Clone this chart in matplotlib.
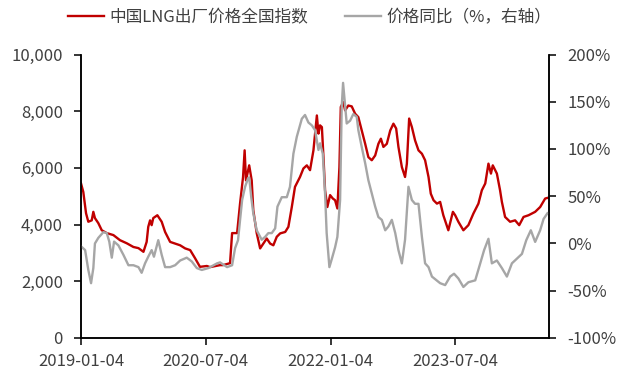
import matplotlib
matplotlib.use("Agg")
import matplotlib.pyplot as plt
import matplotlib.dates as mdates
from matplotlib.ticker import FuncFormatter, MultipleLocator
import pandas as pd

plt.rcParams['font.family'] = ['Noto Sans CJK SC', 'DejaVu Sans']
plt.rcParams['axes.unicode_minus'] = False

# 中国LNG出厂价格全国指数 (元/吨)
index_dates = [
    "2019-01-04", "2019-01-14", "2019-01-26", "2019-02-05", "2019-02-20", "2019-02-27",
    "2019-03-06", "2019-03-21", "2019-04-05", "2019-04-27", "2019-05-26", "2019-06-24",
    "2019-07-24", "2019-08-22", "2019-09-13", "2019-10-05", "2019-10-19", "2019-10-26",
    "2019-11-03", "2019-11-10", "2019-11-17", "2019-12-05", "2019-12-24", "2020-01-08",
    "2020-01-30", "2020-02-21", "2020-03-14", "2020-04-05", "2020-04-27", "2020-05-18",
    "2020-06-09", "2020-07-09", "2020-07-23", "2020-09-05", "2020-09-18", "2020-10-19",
    "2020-10-28", "2020-11-19", "2020-12-02", "2020-12-15", "2020-12-22", "2020-12-28",
    "2021-01-11", "2021-01-22", "2021-01-29", "2021-02-13", "2021-02-28", "2021-03-14",
    "2021-03-29", "2021-04-13", "2021-04-27", "2021-05-12", "2021-05-27", "2021-06-18",
    "2021-07-02", "2021-07-17", "2021-07-31", "2021-08-22", "2021-09-06", "2021-09-21",
    "2021-10-05", "2021-10-20", "2021-10-27", "2021-11-04", "2021-11-11", "2021-11-18",
    "2021-11-26", "2021-12-03", "2021-12-10", "2021-12-20", "2022-01-01", "2022-01-13",
    "2022-01-23", "2022-02-02", "2022-02-11", "2022-02-17", "2022-02-28", "2022-03-08",
    "2022-03-22", "2022-04-06", "2022-04-21", "2022-05-05", "2022-05-20", "2022-06-04",
    "2022-06-18", "2022-07-03", "2022-07-18", "2022-08-01", "2022-08-12", "2022-08-23",
    "2022-09-07", "2022-09-22", "2022-10-06", "2022-10-18", "2022-10-28", "2022-11-12",
    "2022-11-26", "2022-12-04", "2022-12-14", "2022-12-26", "2023-01-09", "2023-01-24",
    "2023-02-08", "2023-02-22", "2023-03-09", "2023-03-19", "2023-03-31", "2023-04-15",
    "2023-04-29", "2023-05-13", "2023-06-04", "2023-06-24", "2023-07-04", "2023-07-18",
    "2023-08-09", "2023-08-31", "2023-09-22", "2023-10-14", "2023-10-29", "2023-11-13",
    "2023-11-27", "2023-12-08", "2023-12-16", "2024-01-03", "2024-01-17", "2024-01-25",
    "2024-02-08", "2024-03-01", "2024-03-23", "2024-04-10", "2024-04-29", "2024-05-21",
    "2024-06-19", "2024-07-11", "2024-08-02", "2024-08-16",
]
index_values = [
    5450, 5150, 4400, 4100, 4150, 4450,
    4230, 4050, 3800, 3700, 3630, 3450,
    3340, 3210, 3170, 3040, 3390, 3920,
    4150, 3980, 4230, 4330, 4100, 3740,
    3390, 3330, 3270, 3160, 3100, 2820,
    2510, 2540, 2500, 2570, 2570, 2640,
    3700, 3700, 4750, 5670, 6620, 5560,
    6090, 5560, 4510, 3700, 3160, 3330,
    3510, 3330, 3270, 3570, 3690, 3740,
    3920, 4620, 5330, 5680, 5980, 6090,
    5920, 6620, 7210, 7850, 7210, 7500,
    7440, 6380, 5210, 4620, 5040, 4920,
    4860, 4570, 6030, 8150, 8320, 8030,
    8200, 8170, 7910, 7790, 7320, 6850,
    6380, 6270, 6440, 6850, 7030, 6740,
    6850, 7320, 7560, 7390, 6740, 6030,
    5680, 6150, 7740, 7440, 6970, 6620,
    6500, 6270, 5680, 5090, 4860, 4740,
    4800, 4330, 3800, 4450, 4330, 4100,
    3800, 3980, 4390, 4740, 5210, 5450,
    6150, 5800, 6090, 5800, 5210, 4800,
    4270, 4100, 4150, 3980, 4270, 4330,
    4450, 4620, 4920, 4950,
]

# 价格同比 (%)
yoy_dates = [
    "2019-01-04", "2019-01-22", "2019-02-05", "2019-02-17", "2019-02-27", "2019-03-06",
    "2019-03-21", "2019-04-12", "2019-04-27", "2019-05-08", "2019-05-19", "2019-05-29",
    "2019-06-17", "2019-07-09", "2019-07-31", "2019-08-22", "2019-09-13", "2019-09-27",
    "2019-10-12", "2019-10-26", "2019-11-10", "2019-11-20", "2019-12-09", "2019-12-24",
    "2020-01-08", "2020-01-30", "2020-02-21", "2020-03-14", "2020-04-12", "2020-05-04",
    "2020-05-26", "2020-06-17", "2020-07-16", "2020-08-23", "2020-09-05", "2020-10-06",
    "2020-10-28", "2020-11-10", "2020-11-23", "2020-12-02", "2020-12-11", "2020-12-24",
    "2021-01-06", "2021-01-11", "2021-01-20", "2021-01-29", "2021-02-13", "2021-03-07",
    "2021-03-22", "2021-04-05", "2021-04-20", "2021-05-05", "2021-05-15", "2021-06-03",
    "2021-06-25", "2021-07-09", "2021-07-24", "2021-08-08", "2021-08-30", "2021-09-13",
    "2021-09-28", "2021-10-13", "2021-10-27", "2021-11-11", "2021-11-18", "2021-11-30",
    "2021-12-10", "2021-12-17", "2021-12-29", "2022-01-09", "2022-01-23", "2022-02-02",
    "2022-02-14", "2022-02-21", "2022-02-27", "2022-03-15", "2022-03-30", "2022-04-13",
    "2022-04-28", "2022-05-05", "2022-05-20", "2022-06-04", "2022-06-18", "2022-07-03",
    "2022-07-18", "2022-08-01", "2022-08-16", "2022-08-31", "2022-09-14", "2022-09-29",
    "2022-10-14", "2022-10-28", "2022-11-12", "2022-11-26", "2022-12-11", "2022-12-26",
    "2023-01-09", "2023-01-24", "2023-02-08", "2023-02-22", "2023-03-09", "2023-03-24",
    "2023-04-29", "2023-05-21", "2023-06-12", "2023-06-29", "2023-07-18", "2023-08-09",
    "2023-08-31", "2023-09-30", "2023-10-22", "2023-11-08", "2023-11-27", "2023-12-12",
    "2024-01-03", "2024-01-25", "2024-02-16", "2024-03-09", "2024-03-31", "2024-04-22",
    "2024-05-11", "2024-05-31", "2024-06-19", "2024-07-11", "2024-07-26", "2024-08-12",
]
yoy_values = [
    -3, -7, -28, -42, -26, 0,
    6, 12, 11, 2, -15, 2,
    -2, -12, -23, -23, -25, -31,
    -21, -14, -7, -14, 3.5, -12,
    -25, -25, -23, -18, -15, -19,
    -26, -28, -26, -21, -20, -25,
    -23, -5, 3.5, 25, 46, 60,
    69, 70, 49, 32, 14, 4,
    7, 11, 11, 16, 39, 49,
    49, 60, 95, 113, 132, 136,
    128, 125, 120, 99, 106, 95,
    53, 11, -25, -16, -4, 7,
    46, 144, 170, 127, 130, 137,
    134, 120, 102, 85, 67, 53,
    39, 28, 25, 14, 18, 25,
    11, -7, -21, 4, 60, 46,
    42, 42, 7, -21, -25, -35,
    -42, -44, -35, -32, -37, -46,
    -41, -39, -21, -7, 5, -21,
    -18, -26, -35, -21, -16, -11,
    3.5, 14, 1.7, 14, 26, 32,
]

x_ticks = ["2019-01-04", "2020-07-04", "2022-01-04", "2023-07-04"]
x_start, x_end = "2019-01-04", "2024-08-19"

label_index = "中国LNG出厂价格全国指数"
label_yoy = "价格同比（%，右轴）"

RED = "#C00000"
GRAY = "#A6A6A6"
TEXT = "#404040"

fig = plt.figure(figsize=(6.19, 3.70), dpi=100)
ax = fig.add_axes([0.1309, 0.0865, 0.7561, 0.7662])
ax2 = ax.twinx()

l1, = ax.plot(pd.to_datetime(index_dates), index_values, color=RED, lw=1.7,
              label=label_index, solid_joinstyle="round")
l2, = ax2.plot(pd.to_datetime(yoy_dates), yoy_values, color=GRAY, lw=1.7,
               label=label_yoy, solid_joinstyle="round")

ax.set_xlim(pd.Timestamp(x_start), pd.Timestamp(x_end))
ax.set_ylim(0, 10000)
ax2.set_ylim(-100, 200)
ax.yaxis.set_major_locator(MultipleLocator(2000))
ax2.yaxis.set_major_locator(MultipleLocator(50))
ax.yaxis.set_major_formatter(FuncFormatter(lambda v, p: f"{v:,.0f}"))
ax2.yaxis.set_major_formatter(FuncFormatter(lambda v, p: f"{v:.0f}%"))
ax.set_xticks(pd.to_datetime(x_ticks))
ax.xaxis.set_major_formatter(mdates.DateFormatter("%Y-%m-%d"))

for a in (ax, ax2):
    a.spines["top"].set_visible(False)
    for s in ("left", "right", "bottom"):
        a.spines[s].set_color("black")
        a.spines[s].set_linewidth(1.1)
    a.tick_params(axis="both", direction="out", length=5, width=1.1,
                  color="black", labelsize=12, labelcolor=TEXT)
ax.tick_params(axis="y", pad=8)
ax2.tick_params(axis="y", pad=8)
ax.tick_params(axis="x", pad=6)
ax.set_facecolor("none")

fig.legend(handles=[l1, l2], loc="center", bbox_to_anchor=(0.5, 0.952),
           ncol=2, frameon=False, fontsize=12, labelcolor=TEXT,
           handlelength=2.2, handletextpad=0.3, columnspacing=2.2)

fig.savefig("out.png", dpi=100)
